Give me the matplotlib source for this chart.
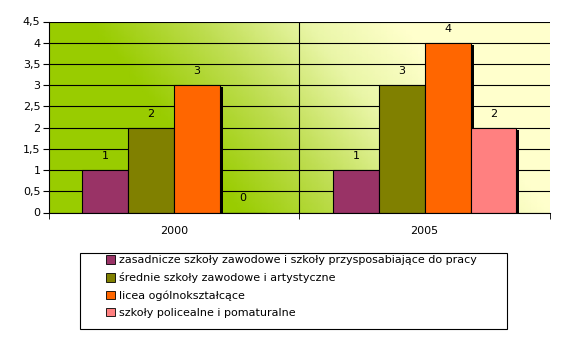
import numpy as np
import matplotlib
matplotlib.use("Agg")
import matplotlib.pyplot as plt
import matplotlib.transforms as mtransforms
from matplotlib.colors import LinearSegmentedColormap
from matplotlib.patches import Rectangle
from matplotlib.ticker import FuncFormatter, MultipleLocator

categories = ["2000", "2005"]
series_names = [
    "zasadnicze szkoły zawodowe i szkoły przysposabiające do pracy",
    "średnie szkoły zawodowe i artystyczne",
    "licea ogólnokształcące",
    "szkoły policealne i pomaturalne",
]
values = [
    [1, 1],
    [2, 3],
    [3, 4],
    [0, 2],
]
colors = ["#993366", "#808000", "#FF6600", "#FF8080"]

plt.rcParams['font.family'] = ['DejaVu Sans']
fig = plt.figure(figsize=(5.74, 3.4), dpi=100)
ax = fig.add_axes([48.7/574, 1-212.5/340, (550-48.7)/574, (212.5-21.5)/340])

xmin, xmax, ymin, ymax = -0.5, 1.5, 0, 4.5

# gradient background (smooth shaded mesh in data coordinates)
gx = np.linspace(xmin, xmax, 81)
gy = np.linspace(ymin - 0.1, ymax + 0.1, 31)
GX, GY = np.meshgrid(gx, gy)
xfrac = (GX - xmin) / (xmax - xmin)
yfrac = (GY - ymin) / (ymax - ymin)
s = xfrac + 0.3*yfrac
t = np.clip((s - 0.38)/(1.0 - 0.38), 0, 1)
cmap = LinearSegmentedColormap.from_list(
    "g", [(0, "#99CC00"), (0.35, "#BEDD50"), (0.7, "#EAF6A8"), (1.0, "#FFFFCC")])
ax.pcolormesh(GX, GY, t, cmap=cmap, vmin=0, vmax=1, shading='gouraud', zorder=0)

x = np.arange(len(categories))
n = len(series_names)
w = 0.183
shadow_tr = mtransforms.offset_copy(ax.transData, fig=fig, x=3, y=-2, units='dots')
for i in range(n):
    pos = x + (i - (n-1)/2)*w
    vals = values[i]
    ax.bar(pos, vals, width=w, color='black', zorder=2, transform=shadow_tr)
    ax.bar(pos, vals, width=w, color=colors[i], edgecolor='black', linewidth=0.8, zorder=3,
           label=series_names[i])
    for px, v in zip(pos, vals):
        ax.text(px, v + 0.33, str(v), ha='center', va='center', fontsize=8, zorder=4)

ax.set_xlim(xmin, xmax)
ax.set_ylim(ymin, ymax)
ax.yaxis.set_major_locator(MultipleLocator(0.5))
ax.yaxis.set_major_formatter(FuncFormatter(lambda v, p: ("%g" % v).replace('.', ',')))
ax.grid(axis='y', color='black', linewidth=0.8, zorder=1)
ax.set_axisbelow(False)
ax.axvline(0.5, color='black', linewidth=0.8, zorder=1)
ax.set_xticks(x)
ax.set_xticklabels(categories, fontsize=8)
ax.set_xticks([-0.5, 0.5, 1.5], minor=True)
ax.tick_params(axis='x', which='major', length=0, pad=10)
ax.tick_params(axis='x', which='minor', length=4, direction='out')
ax.tick_params(axis='y', labelsize=8, length=4, direction='out', pad=2)
for side in ['top', 'right']:
    ax.spines[side].set_visible(False)
ax.spines['left'].set_linewidth(0.8)
ax.spines['bottom'].set_linewidth(0.8)
ax.spines['left'].set_zorder(5)
ax.spines['bottom'].set_zorder(5)

# legend
fig.patches.append(Rectangle((80/574, 1-329/340), (507-80)/574, (329-253)/340,
                             transform=fig.transFigure, fill=False, edgecolor='black',
                             linewidth=0.8))
handles, labels = ax.get_legend_handles_labels()
leg = fig.legend(handles, labels, loc='upper left', bbox_to_anchor=(103/574, 1-252/340),
                 frameon=False, fontsize=8, handlelength=0.8, handleheight=0.8,
                 handletextpad=0.3, labelspacing=0.62, borderpad=0.3, borderaxespad=0)
for h in leg.legend_handles:
    h.set_edgecolor('black')
    h.set_linewidth(0.6)

fig.savefig("out.png", dpi=100)
